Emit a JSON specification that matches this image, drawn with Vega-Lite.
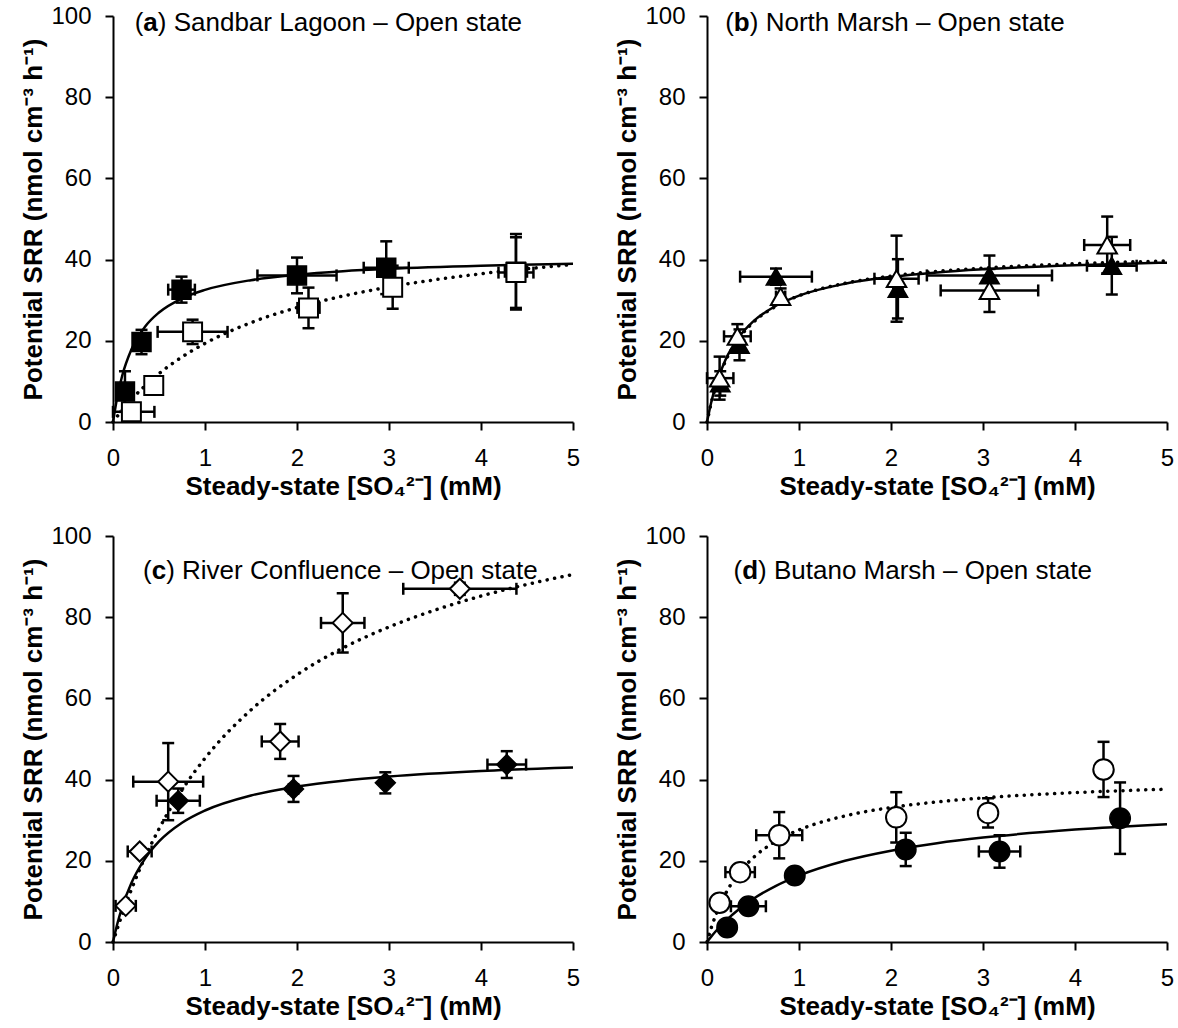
{
  "$schema": "https://vega.github.io/schema/vega-lite/v6.json",
  "padding": {"left": 20, "top": 4, "right": 5, "bottom": 5},
  "bounds": "flush",
  "data": {"values": [
    {"kind":"pt","panel":"a","series":"closed","x":0.13,"y":7.5,"xlo":0.08,"xhi":0.18,"ylo":2.5,"yhi":12.5},
    {"kind":"pt","panel":"a","series":"closed","x":0.31,"y":19.7,"xlo":0.26,"xhi":0.36,"ylo":16.7,"yhi":22.7},
    {"kind":"pt","panel":"a","series":"closed","x":0.745,"y":32.6,"xlo":0.6,"xhi":0.89,"ylo":29.4,"yhi":35.8},
    {"kind":"pt","panel":"a","series":"closed","x":2.0,"y":36.1,"xlo":1.57,"xhi":2.43,"ylo":31.7,"yhi":40.5},
    {"kind":"pt","panel":"a","series":"closed","x":2.97,"y":38.0,"xlo":2.725,"xhi":3.215,"ylo":31.5,"yhi":44.5},
    {"kind":"pt","panel":"a","series":"closed","x":4.38,"y":37.0,"xlo":4.26,"xhi":4.5,"ylo":27.7,"yhi":46.3},
    {"kind":"pt","panel":"a","series":"open","x":0.2,"y":2.5,"xlo":0.0,"xhi":0.45,"ylo":1.5,"yhi":3.5},
    {"kind":"pt","panel":"a","series":"open","x":0.443,"y":9.0,"xlo":0.403,"xhi":0.483,"ylo":8,"yhi":10},
    {"kind":"pt","panel":"a","series":"open","x":0.865,"y":22.2,"xlo":0.485,"xhi":1.245,"ylo":19.2,"yhi":25.2},
    {"kind":"pt","panel":"a","series":"open","x":2.125,"y":28.1,"xlo":2.005,"xhi":2.245,"ylo":23.1,"yhi":33.1},
    {"kind":"pt","panel":"a","series":"open","x":3.04,"y":33.2,"xlo":2.95,"xhi":3.13,"ylo":27.9,"yhi":38.5},
    {"kind":"pt","panel":"a","series":"open","x":4.38,"y":36.8,"xlo":4.19,"xhi":4.57,"ylo":28.1,"yhi":45.5},

    {"kind":"pt","panel":"b","series":"closed","x":0.144,"y":9.5,"xlo":0.094,"xhi":0.194,"ylo":6.5,"yhi":12.5},
    {"kind":"pt","panel":"b","series":"closed","x":0.353,"y":19.0,"xlo":0.303,"xhi":0.403,"ylo":15.2,"yhi":22.8},
    {"kind":"pt","panel":"b","series":"closed","x":0.75,"y":35.8,"xlo":0.36,"xhi":1.14,"ylo":33.8,"yhi":37.8},
    {"kind":"pt","panel":"b","series":"closed","x":2.075,"y":32.8,"xlo":2.025,"xhi":2.125,"ylo":25.5,"yhi":40.1},
    {"kind":"pt","panel":"b","series":"closed","x":3.07,"y":36.1,"xlo":2.39,"xhi":3.75,"ylo":31.2,"yhi":41.0},
    {"kind":"pt","panel":"b","series":"closed","x":4.40,"y":38.5,"xlo":4.13,"xhi":4.67,"ylo":31.4,"yhi":45.6},
    {"kind":"pt","panel":"b","series":"open","x":0.137,"y":10.8,"xlo":0.0,"xhi":0.287,"ylo":5.5,"yhi":16.1},
    {"kind":"pt","panel":"b","series":"open","x":0.33,"y":21.1,"xlo":0.185,"xhi":0.475,"ylo":18.1,"yhi":24.1},
    {"kind":"pt","panel":"b","series":"open","x":0.80,"y":30.9,"xlo":0.75,"xhi":0.85,"ylo":28.9,"yhi":32.9},
    {"kind":"pt","panel":"b","series":"open","x":2.06,"y":35.3,"xlo":1.82,"xhi":2.3,"ylo":24.7,"yhi":45.9},
    {"kind":"pt","panel":"b","series":"open","x":3.07,"y":32.4,"xlo":2.54,"xhi":3.6,"ylo":27.1,"yhi":37.7},
    {"kind":"pt","panel":"b","series":"open","x":4.35,"y":43.6,"xlo":4.1,"xhi":4.6,"ylo":36.6,"yhi":50.6},

    {"kind":"pt","panel":"c","series":"closed","x":0.709,"y":34.8,"xlo":0.474,"xhi":0.944,"ylo":31.8,"yhi":37.8},
    {"kind":"pt","panel":"c","series":"closed","x":1.962,"y":37.7,"xlo":1.912,"xhi":2.012,"ylo":34.5,"yhi":40.9},
    {"kind":"pt","panel":"c","series":"closed","x":2.96,"y":39.2,"xlo":2.93,"xhi":2.99,"ylo":36.6,"yhi":41.8},
    {"kind":"pt","panel":"c","series":"closed","x":4.28,"y":43.7,"xlo":4.07,"xhi":4.49,"ylo":40.4,"yhi":47.0},
    {"kind":"pt","panel":"c","series":"open","x":0.138,"y":8.9,"xlo":0.028,"xhi":0.248,"ylo":7.9,"yhi":9.9},
    {"kind":"pt","panel":"c","series":"open","x":0.29,"y":22.3,"xlo":0.16,"xhi":0.42,"ylo":21.3,"yhi":23.3},
    {"kind":"pt","panel":"c","series":"open","x":0.6,"y":39.5,"xlo":0.22,"xhi":0.98,"ylo":30.0,"yhi":49.0},
    {"kind":"pt","panel":"c","series":"open","x":1.817,"y":49.4,"xlo":1.617,"xhi":2.017,"ylo":45.1,"yhi":53.7},
    {"kind":"pt","panel":"c","series":"open","x":2.497,"y":78.6,"xlo":2.261,"xhi":2.733,"ylo":71.3,"yhi":85.9},
    {"kind":"pt","panel":"c","series":"open","x":3.77,"y":87.0,"xlo":3.155,"xhi":4.385,"ylo":85.5,"yhi":88.5},

    {"kind":"pt","panel":"d","series":"closed","x":0.219,"y":3.6,"xlo":0.219,"xhi":0.219,"ylo":3.6,"yhi":3.6},
    {"kind":"pt","panel":"d","series":"closed","x":0.45,"y":8.8,"xlo":0.26,"xhi":0.64,"ylo":8.8,"yhi":8.8},
    {"kind":"pt","panel":"d","series":"closed","x":0.954,"y":16.4,"xlo":0.954,"xhi":0.954,"ylo":16.4,"yhi":16.4},
    {"kind":"pt","panel":"d","series":"closed","x":2.16,"y":22.8,"xlo":2.11,"xhi":2.21,"ylo":18.7,"yhi":26.9},
    {"kind":"pt","panel":"d","series":"closed","x":3.18,"y":22.3,"xlo":2.955,"xhi":3.405,"ylo":18.3,"yhi":26.3},
    {"kind":"pt","panel":"d","series":"closed","x":4.49,"y":30.5,"xlo":4.44,"xhi":4.54,"ylo":21.7,"yhi":39.3},
    {"kind":"pt","panel":"d","series":"open","x":0.137,"y":9.65,"xlo":0.137,"xhi":0.137,"ylo":9.65,"yhi":9.65},
    {"kind":"pt","panel":"d","series":"open","x":0.36,"y":17.2,"xlo":0.2,"xhi":0.52,"ylo":17.2,"yhi":17.2},
    {"kind":"pt","panel":"d","series":"open","x":0.785,"y":26.3,"xlo":0.535,"xhi":1.035,"ylo":20.6,"yhi":32.0},
    {"kind":"pt","panel":"d","series":"open","x":2.057,"y":30.7,"xlo":2.027,"xhi":2.087,"ylo":24.5,"yhi":36.9},
    {"kind":"pt","panel":"d","series":"open","x":3.055,"y":31.8,"xlo":3.005,"xhi":3.105,"ylo":28.2,"yhi":35.4},
    {"kind":"pt","panel":"d","series":"open","x":4.31,"y":42.5,"xlo":4.23,"xhi":4.39,"ylo":35.7,"yhi":49.3},

    {"kind":"curve","panel":"a","series":"closed","x":0,"y":0},
    {"kind":"curve","panel":"a","series":"closed","x":0.05,"y":6.61},
    {"kind":"curve","panel":"a","series":"closed","x":0.1,"y":11.39},
    {"kind":"curve","panel":"a","series":"closed","x":0.2,"y":17.83},
    {"kind":"curve","panel":"a","series":"closed","x":0.35,"y":23.52},
    {"kind":"curve","panel":"a","series":"closed","x":0.5,"y":26.97},
    {"kind":"curve","panel":"a","series":"closed","x":0.75,"y":30.45},
    {"kind":"curve","panel":"a","series":"closed","x":1,"y":32.54},
    {"kind":"curve","panel":"a","series":"closed","x":1.5,"y":34.94},
    {"kind":"curve","panel":"a","series":"closed","x":2,"y":36.28},
    {"kind":"curve","panel":"a","series":"closed","x":2.5,"y":37.14},
    {"kind":"curve","panel":"a","series":"closed","x":3,"y":37.73},
    {"kind":"curve","panel":"a","series":"closed","x":4,"y":38.5},
    {"kind":"curve","panel":"a","series":"closed","x":5,"y":38.97},
    {"kind":"curve","panel":"a","series":"open","x":0,"y":0},
    {"kind":"curve","panel":"a","series":"open","x":0.05,"y":1.5},
    {"kind":"curve","panel":"a","series":"open","x":0.1,"y":2.92},
    {"kind":"curve","panel":"a","series":"open","x":0.2,"y":5.53},
    {"kind":"curve","panel":"a","series":"open","x":0.35,"y":8.95},
    {"kind":"curve","panel":"a","series":"open","x":0.5,"y":11.91},
    {"kind":"curve","panel":"a","series":"open","x":0.75,"y":16.02},
    {"kind":"curve","panel":"a","series":"open","x":1,"y":19.36},
    {"kind":"curve","panel":"a","series":"open","x":1.5,"y":24.47},
    {"kind":"curve","panel":"a","series":"open","x":2,"y":28.19},
    {"kind":"curve","panel":"a","series":"open","x":2.5,"y":31.02},
    {"kind":"curve","panel":"a","series":"open","x":3,"y":33.24},
    {"kind":"curve","panel":"a","series":"open","x":4,"y":36.51},
    {"kind":"curve","panel":"a","series":"open","x":5,"y":38.8},

    {"kind":"curve","panel":"b","series":"closed","x":0,"y":0},
    {"kind":"curve","panel":"b","series":"closed","x":0.05,"y":5.25},
    {"kind":"curve","panel":"b","series":"closed","x":0.1,"y":9.33},
    {"kind":"curve","panel":"b","series":"closed","x":0.2,"y":15.27},
    {"kind":"curve","panel":"b","series":"closed","x":0.35,"y":21.0},
    {"kind":"curve","panel":"b","series":"closed","x":0.5,"y":24.71},
    {"kind":"curve","panel":"b","series":"closed","x":0.75,"y":28.64},
    {"kind":"curve","panel":"b","series":"closed","x":1,"y":31.11},
    {"kind":"curve","panel":"b","series":"closed","x":1.5,"y":34.05},
    {"kind":"curve","panel":"b","series":"closed","x":2,"y":35.74},
    {"kind":"curve","panel":"b","series":"closed","x":2.5,"y":36.84},
    {"kind":"curve","panel":"b","series":"closed","x":3,"y":37.61},
    {"kind":"curve","panel":"b","series":"closed","x":4,"y":38.62},
    {"kind":"curve","panel":"b","series":"closed","x":5,"y":39.25},
    {"kind":"curve","panel":"b","series":"open","x":0,"y":0},
    {"kind":"curve","panel":"b","series":"open","x":0.05,"y":5.07},
    {"kind":"curve","panel":"b","series":"open","x":0.1,"y":9.06},
    {"kind":"curve","panel":"b","series":"open","x":0.2,"y":14.95},
    {"kind":"curve","panel":"b","series":"open","x":0.35,"y":20.71},
    {"kind":"curve","panel":"b","series":"open","x":0.5,"y":24.48},
    {"kind":"curve","panel":"b","series":"open","x":0.75,"y":28.53},
    {"kind":"curve","panel":"b","series":"open","x":1,"y":31.09},
    {"kind":"curve","panel":"b","series":"open","x":1.5,"y":34.17},
    {"kind":"curve","panel":"b","series":"open","x":2,"y":35.95},
    {"kind":"curve","panel":"b","series":"open","x":2.5,"y":37.11},
    {"kind":"curve","panel":"b","series":"open","x":3,"y":37.92},
    {"kind":"curve","panel":"b","series":"open","x":4,"y":38.99},
    {"kind":"curve","panel":"b","series":"open","x":5,"y":39.66},

    {"kind":"curve","panel":"c","series":"closed","x":0,"y":0},
    {"kind":"curve","panel":"c","series":"closed","x":0.05,"y":4.73},
    {"kind":"curve","panel":"c","series":"closed","x":0.1,"y":8.59},
    {"kind":"curve","panel":"c","series":"closed","x":0.2,"y":14.51},
    {"kind":"curve","panel":"c","series":"closed","x":0.35,"y":20.6},
    {"kind":"curve","panel":"c","series":"closed","x":0.5,"y":24.76},
    {"kind":"curve","panel":"c","series":"closed","x":0.75,"y":29.37},
    {"kind":"curve","panel":"c","series":"closed","x":1,"y":32.39},
    {"kind":"curve","panel":"c","series":"closed","x":1.5,"y":36.09},
    {"kind":"curve","panel":"c","series":"closed","x":2,"y":38.28},
    {"kind":"curve","panel":"c","series":"closed","x":2.5,"y":39.73},
    {"kind":"curve","panel":"c","series":"closed","x":3,"y":40.75},
    {"kind":"curve","panel":"c","series":"closed","x":4,"y":42.11},
    {"kind":"curve","panel":"c","series":"closed","x":5,"y":42.98},
    {"kind":"curve","panel":"c","series":"open","x":0,"y":0},
    {"kind":"curve","panel":"c","series":"open","x":0.05,"y":3.51},
    {"kind":"curve","panel":"c","series":"open","x":0.1,"y":6.83},
    {"kind":"curve","panel":"c","series":"open","x":0.2,"y":12.93},
    {"kind":"curve","panel":"c","series":"open","x":0.35,"y":20.95},
    {"kind":"curve","panel":"c","series":"open","x":0.5,"y":27.85},
    {"kind":"curve","panel":"c","series":"open","x":0.75,"y":37.45},
    {"kind":"curve","panel":"c","series":"open","x":1,"y":45.26},
    {"kind":"curve","panel":"c","series":"open","x":1.5,"y":57.17},
    {"kind":"curve","panel":"c","series":"open","x":2,"y":65.83},
    {"kind":"curve","panel":"c","series":"open","x":2.5,"y":72.42},
    {"kind":"curve","panel":"c","series":"open","x":3,"y":77.59},
    {"kind":"curve","panel":"c","series":"open","x":3.5,"y":81.76},
    {"kind":"curve","panel":"c","series":"open","x":4,"y":85.2},
    {"kind":"curve","panel":"c","series":"open","x":4.5,"y":88.07},
    {"kind":"curve","panel":"c","series":"open","x":5,"y":90.52},

    {"kind":"curve","panel":"d","series":"closed","x":0,"y":0},
    {"kind":"curve","panel":"d","series":"closed","x":0.05,"y":1.44},
    {"kind":"curve","panel":"d","series":"closed","x":0.1,"y":2.77},
    {"kind":"curve","panel":"d","series":"closed","x":0.2,"y":5.14},
    {"kind":"curve","panel":"d","series":"closed","x":0.35,"y":8.13},
    {"kind":"curve","panel":"d","series":"closed","x":0.5,"y":10.59},
    {"kind":"curve","panel":"d","series":"closed","x":0.75,"y":13.85},
    {"kind":"curve","panel":"d","series":"closed","x":1,"y":16.36},
    {"kind":"curve","panel":"d","series":"closed","x":1.5,"y":20.0},
    {"kind":"curve","panel":"d","series":"closed","x":2,"y":22.5},
    {"kind":"curve","panel":"d","series":"closed","x":2.5,"y":24.32},
    {"kind":"curve","panel":"d","series":"closed","x":3,"y":25.71},
    {"kind":"curve","panel":"d","series":"closed","x":4,"y":27.69},
    {"kind":"curve","panel":"d","series":"closed","x":5,"y":29.03},
    {"kind":"curve","panel":"d","series":"open","x":0,"y":0},
    {"kind":"curve","panel":"d","series":"open","x":0.05,"y":3.76},
    {"kind":"curve","panel":"d","series":"open","x":0.1,"y":6.9},
    {"kind":"curve","panel":"d","series":"open","x":0.2,"y":11.83},
    {"kind":"curve","panel":"d","series":"open","x":0.35,"y":17.05},
    {"kind":"curve","panel":"d","series":"open","x":0.5,"y":20.7},
    {"kind":"curve","panel":"d","series":"open","x":0.75,"y":24.84},
    {"kind":"curve","panel":"d","series":"open","x":1,"y":27.6},
    {"kind":"curve","panel":"d","series":"open","x":1.5,"y":31.05},
    {"kind":"curve","panel":"d","series":"open","x":2,"y":33.12},
    {"kind":"curve","panel":"d","series":"open","x":2.5,"y":34.5},
    {"kind":"curve","panel":"d","series":"open","x":3,"y":35.49},
    {"kind":"curve","panel":"d","series":"open","x":4,"y":36.8},
    {"kind":"curve","panel":"d","series":"open","x":5,"y":37.64},

    {"kind":"label","panel":"a","bold":false,"text":"(","x":0.236,"y":96.2},
    {"kind":"label","panel":"a","bold":true,"text":"a","x":0.330,"y":96.2},
    {"kind":"label","panel":"a","bold":false,"text":") Sandbar Lagoon – Open state","x":0.487,"y":96.2},
    {"kind":"label","panel":"b","bold":false,"text":"(","x":0.198,"y":96.2},
    {"kind":"label","panel":"b","bold":true,"text":"b","x":0.292,"y":96.2},
    {"kind":"label","panel":"b","bold":false,"text":") North Marsh – Open state","x":0.465,"y":96.2},
    {"kind":"label","panel":"c","bold":false,"text":"(","x":0.327,"y":89.5},
    {"kind":"label","panel":"c","bold":true,"text":"c","x":0.421,"y":89.5},
    {"kind":"label","panel":"c","bold":false,"text":") River Confluence – Open state","x":0.578,"y":89.5},
    {"kind":"label","panel":"d","bold":false,"text":"(","x":0.288,"y":89.5},
    {"kind":"label","panel":"d","bold":true,"text":"d","x":0.382,"y":89.5},
    {"kind":"label","panel":"d","bold":false,"text":") Butano Marsh – Open state","x":0.555,"y":89.5}
  ]},
  "transform": [
    {"calculate": "datum.panel === 'a' || datum.panel === 'b' ? 'top' : 'bottom'", "as": "prow"},
    {"calculate": "datum.panel === 'a' || datum.panel === 'c' ? 'left' : 'right'", "as": "pcol"}
  ],
  "facet": {
    "row": {"field": "prow", "type": "nominal", "sort": ["top", "bottom"], "header": {"labels": false, "title": null, "labelPadding": 0}},
    "column": {"field": "pcol", "type": "nominal", "sort": ["left", "right"], "header": {"labels": false, "title": null, "labelPadding": 0}}
  },
  "spacing": {"column": 134, "row": 114},
  "resolve": {"axis": {"x": "independent", "y": "independent"}},
  "spec": {
    "width": 460,
    "height": 406,
    "encoding": {
      "x": {"field": "x", "type": "quantitative",
        "scale": {"domain": [0, 5], "nice": false},
        "axis": {"values": [0,1,2,3,4,5], "title": "Steady-state [SO₄²⁻] (mM)", "format": "d"}},
      "y": {"field": "y", "type": "quantitative",
        "scale": {"domain": [0, 100], "nice": false},
        "axis": {"values": [0,20,40,60,80,100], "title": "Potential SRR (nmol cm⁻³ h⁻¹)", "format": "d"}}
    },
    "layer": [
      {
        "transform": [{"filter": "datum.kind === 'curve' && datum.series === 'closed'"}],
        "mark": {"type": "line", "color": "black", "strokeWidth": 2.5, "interpolate": "monotone"},
        "encoding": {}
      },
      {
        "transform": [{"filter": "datum.kind === 'curve' && datum.series === 'open'"}],
        "mark": {"type": "line", "color": "black", "strokeWidth": 3.5, "strokeCap": "round", "strokeDash": [0.1, 7.5], "interpolate": "monotone"},
        "encoding": {}
      },
      {
        "transform": [{"filter": "datum.kind === 'pt'"}],
        "mark": {"type": "errorbar", "color": "black", "size": 12, "thickness": 2.5,
          "ticks": {"color": "black", "opacity": 1, "thickness": 2.5},
          "rule": {"color": "black", "opacity": 1, "strokeWidth": 2.5}},
        "encoding": {
          "x": {"field": "xlo", "type": "quantitative"},
          "x2": {"field": "xhi"},
          "y": {"field": "y", "type": "quantitative"}
        }
      },
      {
        "transform": [{"filter": "datum.kind === 'pt'"}],
        "mark": {"type": "errorbar", "color": "black", "size": 12, "thickness": 2.5,
          "ticks": {"color": "black", "opacity": 1, "thickness": 2.5},
          "rule": {"color": "black", "opacity": 1, "strokeWidth": 2.5}},
        "encoding": {
          "x": {"field": "x", "type": "quantitative"},
          "y": {"field": "ylo", "type": "quantitative"},
          "y2": {"field": "yhi"}
        }
      },
      {
        "transform": [{"filter": "datum.kind === 'pt' && datum.series === 'closed'"}],
        "mark": {"type": "point", "filled": true, "color": "black", "stroke": "black", "strokeWidth": 1.5, "opacity": 1},
        "encoding": {
          "shape": {"field": "panel", "type": "nominal", "scale": {"domain": ["a","b","c","d"], "range": ["square","triangle-up","diamond","circle"]}, "legend": null},
          "size": {"field": "panel", "type": "nominal", "scale": {"domain": ["a","b","c","d"], "range": [360, 420, 250, 400]}, "legend": null}
        }
      },
      {
        "transform": [{"filter": "datum.kind === 'pt' && datum.series === 'open'"}],
        "mark": {"type": "point", "filled": true, "fill": "white", "stroke": "black", "strokeWidth": 2, "opacity": 1},
        "encoding": {
          "shape": {"field": "panel", "type": "nominal", "scale": {"domain": ["a","b","c","d"], "range": ["square","triangle-up","diamond","circle"]}, "legend": null},
          "size": {"field": "panel", "type": "nominal", "scale": {"domain": ["a","b","c","d"], "range": [360, 420, 300, 400]}, "legend": null}
        }
      },
      {
        "transform": [{"filter": "datum.kind === 'label' && !datum.bold"}],
        "mark": {"type": "text", "align": "left", "baseline": "alphabetic", "fontSize": 26, "font": "Liberation Sans", "color": "black"},
        "encoding": {"text": {"field": "text"}}
      },
      {
        "transform": [{"filter": "datum.kind === 'label' && datum.bold"}],
        "mark": {"type": "text", "align": "left", "baseline": "alphabetic", "fontSize": 26, "fontWeight": "bold", "font": "Liberation Sans", "color": "black"},
        "encoding": {"text": {"field": "text"}}
      }
    ]
  },
  "config": {
    "view": {"stroke": null},
    "font": "Liberation Sans",
    "axis": {
      "grid": false,
      "domainColor": "black", "domainWidth": 2,
      "tickColor": "black", "tickWidth": 2, "tickSize": 8,
      "labelColor": "black", "labelFont": "Liberation Sans", "labelFontSize": 24, "labelPadding": 14,
      "titleColor": "black", "titleFont": "Liberation Sans", "titleFontSize": 26, "titleFontWeight": "bold"
    },
    "axisX": {"labelPadding": 16, "titlePadding": 3, "labelFlush": false},
    "axisY": {"titlePadding": 4}
  }
}
